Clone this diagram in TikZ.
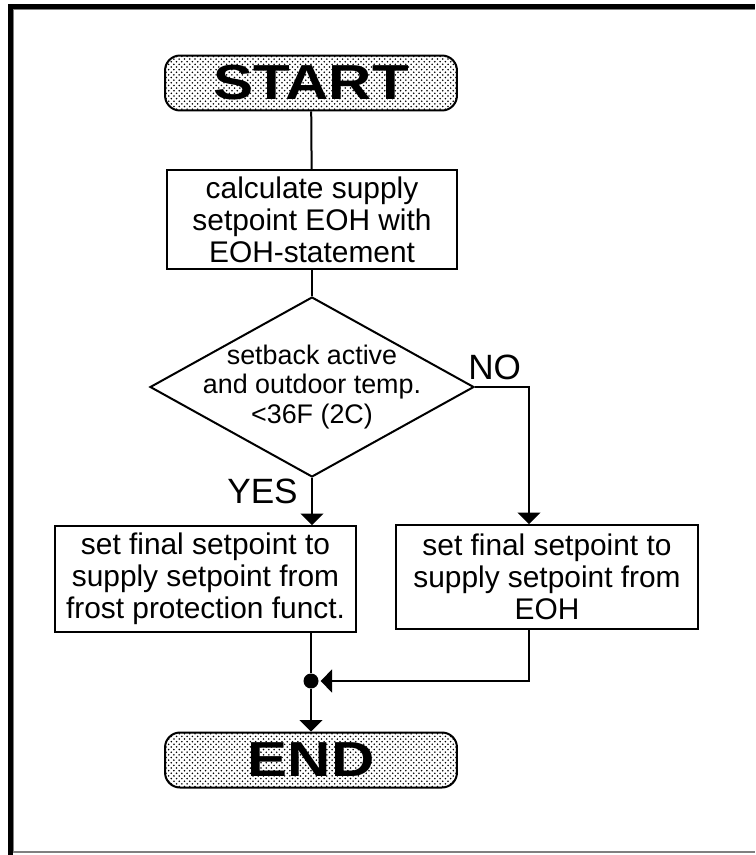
\documentclass[tikz,border=0pt]{standalone}
\usepackage{fontspec}
\setmainfont{Liberation Sans}
\usepackage{tikz}
\usetikzlibrary{arrows.meta,shapes.geometric,patterns,positioning,calc}

\tikzset{
	terminal/.style={draw, line width=0.04cm, rounded corners=0.3cm, minimum width=5.84cm, minimum height=1.1cm, preaction={fill=white}, pattern=crosshatch dots, font=\fontsize{28}{30}\selectfont\bfseries},
	process/.style={draw, line width=0.04cm, align=center, inner sep=0pt, font=\fontsize{17}{18.2}\selectfont},
	decision/.style={draw, diamond, line width=0.04cm, inner sep=0pt, minimum width=6.48cm, minimum height=3.6cm},
	answer/.style={inner sep=0pt, font=\fontsize{20}{22}\selectfont},
	flow/.style={line width=0.04cm, -{Triangle[width=0.46cm, length=0.23cm]}}
}

\begin{document}
\begin{tikzpicture}[x=0.02cm, y=-0.02cm]
		\useasboundingbox (0,0) rectangle (755,855);

		% window frame
		\draw[line width=0.09cm] (10.3,855) -- (10.3,6.3) -- (755,6.3);
		\draw[gray, line width=0.03cm] (13.5,852) -- (13.5,9.5) -- (755,9.5);
		\draw[gray, line width=0.05cm] (13,852) -- (755,852);

		\node[terminal] (start) at (311,83) {\scalebox{1.22}[1]{START}};
		\node[process, minimum width=5.8cm, minimum height=1.98cm] (calc) at (312,219.5) {calculate supply\\setpoint EOH with\\EOH-statement};
		\node[decision, label={[align=center, font=\fontsize{15.3}{17}\selectfont]center:setback active\\and outdoor temp.\\<36F (2C)}] (test) at (312,387) {};
		\node[answer, anchor=base west] (no) at (468,379) {NO};
		\node[answer, anchor=base east] (yes) at (298,503) {YES};
		\node[process, minimum width=6.02cm, minimum height=2.12cm] (frost) at (205.5,579) {set final setpoint to\\supply setpoint from\\frost protection funct.};
		\node[process, minimum width=6.04cm, minimum height=2.08cm] (eoh) at (547,577) {set final setpoint to\\supply setpoint from\\EOH};
		\node[circle, fill=black, inner sep=0pt, minimum size=0.3cm] (merge) at (311,681) {};
		\node[terminal] (end) at (311,760) {\scalebox{1.22}[1]{END}};
		\coordinate (noturn) at (529,387);

		\draw[line width=0.04cm] (start) -- (calc);
		\draw[line width=0.04cm] (calc) -- (test);
		\draw[flow] (test.south) -- (test.south |- frost.north);
		\draw[flow] (test.east) -- (noturn) -- (noturn |- eoh.north);
		\draw[line width=0.04cm] (merge |- frost.south) -- (merge);
		\draw[flow, shorten >=1pt] (noturn |- eoh.south) |- (merge);
		\draw[flow] (merge) -- (end);
	\end{tikzpicture}
\end{document}
